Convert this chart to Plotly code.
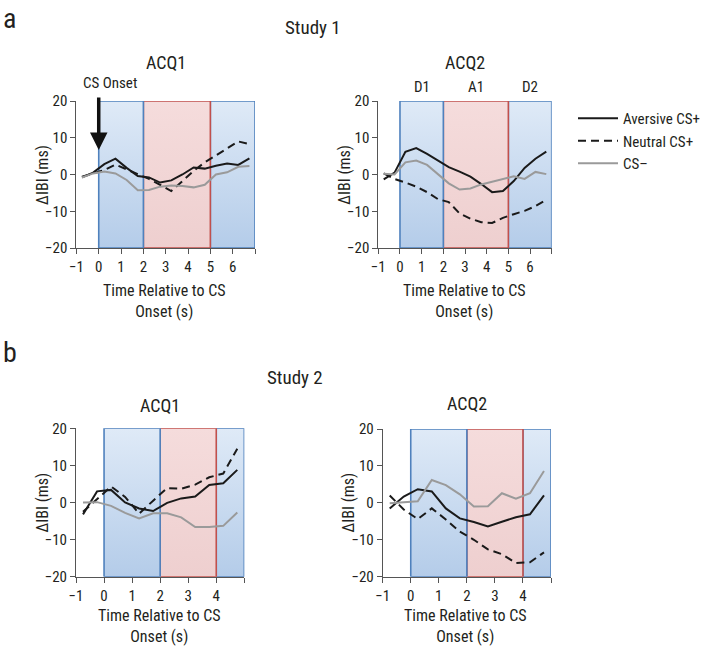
import plotly.graph_objects as go

# ---------------- data ----------------
t_s1 = [-0.75, -0.25, 0.25, 0.75, 1.25, 1.75, 2.25, 2.75, 3.25, 3.75, 4.25, 4.75, 5.25, 5.75, 6.25, 6.75]
t_s2 = [-0.75, -0.25, 0.25, 0.75, 1.25, 1.75, 2.25, 2.75, 3.25, 3.75, 4.25, 4.75]

s1_acq1_aversive = [-0.8, 0.5, 2.8, 4.3, 1.8, -0.4, -0.8, -2.2, -1.6, 0.0, 1.9, 1.6, 2.4, 3.0, 2.6, 4.4]
s1_acq1_neutral = [-0.6, 0.3, 1.2, 2.7, 1.4, 0.3, -1.2, -2.8, -4.5, -1.8, 1.0, 3.3, 5.2, 7.0, 9.0, 8.3]
s1_acq1_csminus = [-0.8, 0.3, 0.8, 0.3, -1.5, -4.3, -4.2, -3.3, -3.0, -3.1, -3.5, -2.8, 0.0, 0.6, 2.1, 2.3]

s1_acq2_aversive = [-1.3, 0.5, 6.2, 7.2, 5.6, 3.9, 2.0, 0.8, -0.6, -2.6, -4.8, -4.5, -1.8, 1.8, 4.3, 6.2]
s1_acq2_neutral = [0.3, -1.2, -2.2, -3.3, -4.8, -6.7, -7.5, -10.6, -12.0, -13.0, -13.2, -11.8, -10.8, -9.9, -8.6, -6.9]
s1_acq2_csminus = [0.2, 0.0, 3.3, 3.8, 2.6, 0.2, -2.4, -4.1, -3.8, -2.7, -1.9, -1.3, -0.5, -1.2, 0.7, 0.1]

s2_acq1_aversive = [-3.2, 3.0, 3.4, 0.0, -1.6, -2.3, -0.1, 1.1, 1.6, 4.7, 5.2, 8.8]
s2_acq1_neutral = [-2.5, 1.0, 4.3, 1.5, -3.0, 0.5, 3.9, 3.7, 4.8, 6.8, 7.8, 14.5]
s2_acq1_csminus = [0.0, 0.1, -0.9, -2.8, -4.3, -2.9, -2.9, -4.0, -6.6, -6.6, -6.3, -2.7]

s2_acq2_aversive = [-1.5, 1.7, 3.7, 3.1, -1.5, -4.2, -5.2, -6.4, -5.1, -3.9, -3.1, 2.0]
s2_acq2_neutral = [2.0, -1.8, -4.4, -1.5, -4.5, -7.8, -10.0, -12.6, -13.9, -16.3, -16.1, -13.4]
s2_acq2_csminus = [-0.1, 0.1, 0.4, 6.2, 4.8, 2.3, -1.0, -0.9, 2.6, 1.1, 2.6, 8.6]

series_names = ["Aversive CS+", "Neutral CS+", "CS\u2013"]

# phase boundaries (s) : D1, A1, D2
s1_phase_edges = [0, 2, 5, 7]
s2_phase_edges = [0, 2, 4, 5]
phase_names = ["D1", "A1", "D2"]
phase_kind = ["blue", "red", "blue"]

y_range = [-20, 20]
s1_x_range = [-1, 7]
s2_x_range = [-1, 5]
y_ticks = [-20, -10, 0, 10, 20]
s1_x_ticks = [-1, 0, 1, 2, 3, 4, 5, 6, 7]
s1_x_ticklabels = ["\u22121", "0", "1", "2", "3", "4", "5", "6", ""]
s2_x_ticks = [-1, 0, 1, 2, 3, 4, 5]
s2_x_ticklabels = ["\u22121", "0", "1", "2", "3", "4", ""]

# ---------------- styling ----------------
W, H = 706, 648
FONT = "Liberation Sans Narrow, Roboto Condensed, Roboto, Liberation Sans, Arial, sans-serif"
TXT = "#231f20"
AX = "#555555"

styles = {
    "Aversive CS+": dict(color="#1a1a1a", width=2, dash="solid"),
    "Neutral CS+": dict(color="#1a1a1a", width=2, dash="8px,5px"),
    "CS\u2013": dict(color="#9a9a9a", width=2, dash="solid"),
}
fill_style = {
    "blue": dict(scale=[[0, "#b4cce9"], [1, "#dfeaf7"]], border="#4f81bd"),
    "red": dict(scale=[[0, "#eecfcf"], [1, "#f5dcdc"]], border="#c0504d"),
}


def px_x(p):
    return p / W


def px_y(p):
    return 1 - p / H


panels = [
    dict(ax="", t=t_s1, edges=s1_phase_edges, xr=s1_x_range, xt=s1_x_ticks, xl=s1_x_ticklabels,
         dom_x=[76.4, 255.0], dom_y=[101.0, 248.0], xt_off=52.5,
         data=[s1_acq1_aversive, s1_acq1_neutral, s1_acq1_csminus], title="ACQ1", title_y=63),
    dict(ax="2", t=t_s1, edges=s1_phase_edges, xr=s1_x_range, xt=s1_x_ticks, xl=s1_x_ticklabels,
         dom_x=[378.3, 551.7], dom_y=[101.0, 248.0], xt_off=52.5,
         data=[s1_acq2_aversive, s1_acq2_neutral, s1_acq2_csminus], title="ACQ2", title_y=63),
    dict(ax="3", t=t_s2, edges=s2_phase_edges, xr=s2_x_range, xt=s2_x_ticks, xl=s2_x_ticklabels,
         dom_x=[76.0, 244.3], dom_y=[428.3, 576.7], xt_off=49.0,
         data=[s2_acq1_aversive, s2_acq1_neutral, s2_acq1_csminus], title="ACQ1", title_y=405),
    dict(ax="4", t=t_s2, edges=s2_phase_edges, xr=s2_x_range, xt=s2_x_ticks, xl=s2_x_ticklabels,
         dom_x=[382.7, 551.0], dom_y=[429.0, 576.7], xt_off=49.0,
         data=[s2_acq2_aversive, s2_acq2_neutral, s2_acq2_csminus], title="ACQ2", title_y=403),
]

fig = go.Figure()
annotations = []
layout_axes = {}

for i, p in enumerate(panels):
    xa = "x" + p["ax"]
    ya = "y" + p["ax"]
    edges = p["edges"]
    # phase shading: draw order so that the red region's right border sits over the next blue
    order = [2, 1, 0]
    for k in order:
        x0, x1 = edges[k], edges[k + 1]
        st = fill_style[phase_kind[k]]
        fig.add_trace(go.Scatter(
            x=[x0, x1, x1, x0, x0], y=[y_range[0], y_range[0], y_range[1], y_range[1], y_range[0]],
            xaxis=xa, yaxis=ya, mode="lines", fill="toself",
            fillgradient=dict(type="vertical", colorscale=st["scale"]),
            line=dict(color=st["border"], width=1.6),
            hoverinfo="skip", showlegend=False,
        ))
    for name, vals in zip(series_names, p["data"]):
        fig.add_trace(go.Scatter(
            x=p["t"], y=vals, xaxis=xa, yaxis=ya, mode="lines", name=name,
            line=styles[name], showlegend=(i == 1), legendgroup=name,
        ))

    dx = [px_x(p["dom_x"][0]), px_x(p["dom_x"][1])]
    dy = [px_y(p["dom_y"][1]), px_y(p["dom_y"][0])]
    common = dict(showline=True, linecolor=AX, linewidth=1, ticks="outside", ticklen=5,
                  tickcolor=AX, tickwidth=1, showgrid=False, zeroline=False, automargin=False,
                  tickfont=dict(family=FONT, size=15, color=TXT), fixedrange=True)
    layout_axes["xaxis" + p["ax"]] = dict(domain=dx, range=p["xr"], anchor=ya, tickmode="array",
                                          tickvals=p["xt"], ticktext=p["xl"], **common)
    layout_axes["yaxis" + p["ax"]] = dict(domain=dy, range=y_range, anchor=xa, tickmode="array",
                                          tickvals=y_ticks, **common)

    cx = (p["dom_x"][0] + p["dom_x"][1]) / 2
    annotations.append(dict(text=p["title"], x=px_x(cx), y=px_y(p["title_y"]), xref="paper", yref="paper",
                            showarrow=False, font=dict(family=FONT, size=18, color=TXT),
                            xanchor="center", yanchor="middle"))
    annotations.append(dict(text="Time Relative to CS<br>Onset (s)", x=px_x(cx - 1),
                            y=px_y(p["dom_y"][1] + p["xt_off"]), xref="paper", yref="paper",
                            showarrow=False, font=dict(family=FONT, size=16, color=TXT),
                            xanchor="center", yanchor="middle"))
    annotations.append(dict(text="\u0394IBI (ms)", x=px_x(p["dom_x"][0] - 34),
                            y=px_y((p["dom_y"][0] + p["dom_y"][1]) / 2), xref="paper", yref="paper",
                            showarrow=False, textangle=-90, font=dict(family=FONT, size=16, color=TXT),
                            xanchor="center", yanchor="middle"))

# phase labels above Study 1 ACQ2
for k, nm in enumerate(phase_names):
    annotations.append(dict(text=nm, x=(s1_phase_edges[k] + s1_phase_edges[k + 1]) / 2, xref="x2",
                            y=px_y(87), yref="paper", showarrow=False,
                            font=dict(family=FONT, size=15, color=TXT), xanchor="center", yanchor="middle"))

# CS onset arrow
annotations.append(dict(text="", x=0, y=6.7, xref="x", yref="y", showarrow=True, ax=0, ay=-54,
                        arrowhead=2, arrowsize=1, arrowwidth=3.5, arrowcolor="#111111"))
annotations.append(dict(text="CS Onset", x=px_x(110), y=px_y(83), xref="paper", yref="paper",
                        showarrow=False, font=dict(family=FONT, size=15, color=TXT),
                        xanchor="center", yanchor="middle"))

# panel letters and study titles
annotations += [
    dict(text="a", x=px_x(1), y=1.0, xref="paper", yref="paper", showarrow=False,
         font=dict(family=FONT, size=28, color=TXT), xanchor="left", yanchor="top"),
    dict(text="Study 1", x=px_x(313), y=px_y(28), xref="paper", yref="paper", showarrow=False,
         font=dict(family=FONT, size=19, color=TXT), xanchor="center", yanchor="middle"),
    dict(text="b", x=px_x(1), y=px_y(352.5), xref="paper", yref="paper", showarrow=False,
         font=dict(family=FONT, size=28, color=TXT), xanchor="left", yanchor="middle"),
    dict(text="Study 2", x=px_x(295), y=px_y(377), xref="paper", yref="paper", showarrow=False,
         font=dict(family=FONT, size=19, color=TXT), xanchor="center", yanchor="middle"),
]

fig.update_layout(
    width=W, height=H, margin=dict(l=0, r=0, t=0, b=0, autoexpand=False),
    paper_bgcolor="white", plot_bgcolor="white",
    font=dict(family=FONT, color=TXT),
    showlegend=True,
    legend=dict(x=1.0, y=px_y(102), xanchor="right", yanchor="top",
                font=dict(family=FONT, size=15, color=TXT), bgcolor="rgba(0,0,0,0)",
                itemwidth=40, tracegroupgap=0),
    annotations=annotations,
    **layout_axes,
)

fig.write_html(
    "out.html",
    config={"displayModeBar": False},
    post_script="document.body.style.margin='0px';document.body.style.overflow='hidden';",
)
